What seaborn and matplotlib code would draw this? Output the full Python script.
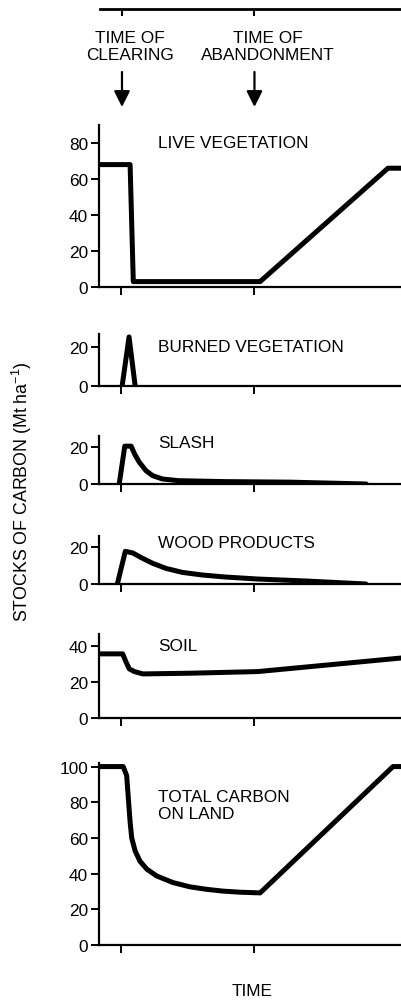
import numpy as np
import pandas as pd
import matplotlib
matplotlib.use('Agg')
import matplotlib.pyplot as plt
import seaborn as sns

# time axis: clearing at t=0, abandonment at t=50 (arbitrary units)
t_events = [0, 50]
event_names = ['TIME OF\nCLEARING', 'TIME OF\nABANDONMENT']

t_live = [-8.3, 3.4, 4.6, 52.3, 100.4, 105.3]
c_live = [68, 68, 3, 3, 66, 66]

t_burned = [0.4, 3.0, 5.3]
c_burned = [0, 25, 0]

t_slash = [-0.7, 1.4, 3.8, 5.1, 6.9, 9.4, 11.9, 15.6, 21.7, 38.9, 63.7, 92.2]
c_slash = [0, 20.5, 20.5, 16.2, 11.7, 7.2, 4.5, 2.7, 1.8, 1.3, 1.0, 0]

t_wood = [-1.4, 1.6, 4.4, 8.1, 11.9, 16.8, 23.0, 30.4, 39.0, 51.4, 69.9, 92.1]
c_wood = [0, 17.7, 16.8, 13.9, 11.2, 8.5, 6.3, 4.9, 3.8, 2.7, 1.6, 0]

t_soil = [-8.3, 0.6, 1.9, 3.1, 5.0, 8.2, 26.3, 51.4, 105.3]
c_soil = [35.5, 35.5, 30.9, 27.2, 25.7, 24.4, 24.8, 25.7, 33.2]

t_total = [-8.3, 0.8, 2.1, 3.4, 4.0, 5.3, 7.1, 9.7, 13.4, 19.5, 25.9, 32.2,
           38.3, 44.7, 52.3, 102.3, 105.3]
c_total = [100, 100, 95, 69, 60, 52.7, 47, 42.5, 38.7, 35, 32.6, 31.2,
           30.2, 29.6, 29.2, 100, 100]

panel_names = ['LIVE VEGETATION', 'BURNED VEGETATION', 'SLASH', 'WOOD PRODUCTS',
               'SOIL', 'TOTAL CARBON\nON LAND']
panel_ticks = [[0, 20, 40, 60, 80], [0, 20], [0, 20], [0, 20], [0, 20, 40],
               [0, 20, 40, 60, 80, 100]]
panel_ylim = [90, 26.5, 26, 26, 46.5, 102]
label_y = [80.5, 20, 22.7, 22.7, 40, 78.5]

series = [(t_live, c_live), (t_burned, c_burned), (t_slash, c_slash),
          (t_wood, c_wood), (t_soil, c_soil), (t_total, c_total)]

sns.set_style('ticks')
plt.rcParams['font.family'] = ['Liberation Sans', 'DejaVu Sans']
plt.rcParams['mathtext.default'] = 'regular'
for k in ['text.color', 'axes.labelcolor', 'xtick.color', 'ytick.color', 'axes.edgecolor']:
    plt.rcParams[k] = 'black'
fs = 12.4

W, H = 401, 1004
fig = plt.figure(figsize=(W / 100, H / 100), dpi=100)
xlim = (-8.3, 105.3)
left = 99 / W

# panel extents in pixels (top, bottom)
boxes = [(126, 288), (335, 387), (437, 485), (537, 585), (635, 719), (764, 946)]

for i, (top, bot) in enumerate(boxes):
    ax = fig.add_axes([left, 1 - bot / H, 1 - left, (bot - top) / H])
    t, c = series[i]
    df = pd.DataFrame({'t': t, 'c': c})
    sns.lineplot(data=df, x='t', y='c', ax=ax, color='black', linewidth=3.6,
                 sort=False, estimator=None)
    ax.set_xlim(*xlim)
    ax.set_ylim(0, panel_ylim[i])
    ax.set_yticks(panel_ticks[i])
    ax.set_xticks(t_events)
    ax.set_xticklabels([])
    ax.set_xlabel('')
    ax.set_ylabel('')
    sns.despine(ax=ax)
    for s in ['left', 'bottom']:
        ax.spines[s].set_linewidth(1.6)
    ax.tick_params(axis='y', length=6, width=1.4, pad=2, labelsize=fs)
    ax.tick_params(axis='x', length=6, width=1.4)
    ax.text(13.9, label_y[i], panel_names[i], fontsize=fs, va='center', ha='left',
            linespacing=1.15)

# timeline with event arrows
axt = fig.add_axes([100 / W, 1 - 110 / H, 1 - 100 / W, 100 / H])
axt.set_xlim(*xlim)
axt.set_ylim(0, 1)
for s in ['left', 'right', 'bottom']:
    axt.spines[s].set_visible(False)
axt.spines['top'].set_linewidth(2)
axt.set_yticks([])
axt.set_xticks(t_events)
axt.set_xticklabels([])
axt.tick_params(axis='x', top=True, bottom=False, direction='in', length=5, width=1.5)
text_x = [3.0, 54.9]
for tx, te, name in zip(text_x, t_events, event_names):
    axt.text(tx, 0.63, name, fontsize=fs, ha='center', va='center', linespacing=1.2)
    axt.annotate('', xy=(te, 0.02), xytext=(te, 0.37),
                 arrowprops=dict(arrowstyle='-|>,head_length=0.4,head_width=0.2',
                                 mutation_scale=24, lw=1.6, color='black',
                                 shrinkA=0, shrinkB=0))

fig.text(22 / W, 1 - 492 / H, 'STOCKS OF CARBON (Mt ha$^{-1}$)', rotation=90,
         ha='center', va='center', fontsize=12.8)
fig.text(252 / W, 1 - 992 / H, 'TIME', ha='center', va='center', fontsize=fs)

fig.savefig('out.png', dpi=100)
